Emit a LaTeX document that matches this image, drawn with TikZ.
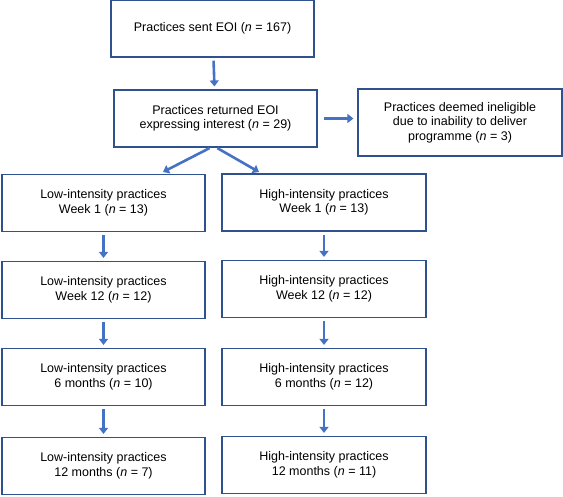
\documentclass[tikz,border=0pt]{standalone}
\usepackage{fontspec}
\setmainfont{Liberation Sans}
\usetikzlibrary{arrows.meta}
\definecolor{boxline}{HTML}{2F528F}
\definecolor{arrowblue}{HTML}{4472C4}
\begin{document}
\begin{tikzpicture}[x=1pt,y=1pt,
	every node/.style={rectangle,draw=boxline,line width=1.2pt,minimum width=203pt,minimum height=57pt,
	inner sep=0,align=center,font=\fontsize{12.5}{14.5}\selectfont},
	arr/.style={draw=arrowblue,line width=2.6pt,-{Triangle[width=9pt,length=6pt]},
	shorten <=3pt,shorten >=3pt}]
\useasboundingbox (0,0) rectangle (563,-496);
\node (sent) at (212.5,-28.5) {Practices sent EOI (\textit{n} = 167)};
\node (ret) at (215.5,-118.5) {Practices returned EOI\\expressing interest (\textit{n} = 29)};
\node[minimum width=204pt,minimum height=67pt] (inel) at (460,-122.5)
	{Practices deemed ineligible\\due to inability to deliver\\programme (\textit{n} = 3)};
% low-intensity arm
\node (low1) at (103.5,-203) {Low-intensity practices\\Week 1 (\textit{n} = 13)};
\node (low2) at (103.5,-290) {Low-intensity practices\\Week 12 (\textit{n} = 12)};
\node (low3) at (103.5,-377) {Low-intensity practices\\6 months (\textit{n} = 10)};
\node (low4) at (103.5,-466) {Low-intensity practices\\12 months (\textit{n} = 7)};
% high-intensity arm
\node[minimum width=204pt] (high1) at (324,-202.5) {High-intensity practices\\Week 1 (\textit{n} = 13)};
\node[minimum width=204pt] (high2) at (324,-289) {High-intensity practices\\Week 12 (\textit{n} = 12)};
\node[minimum width=204pt] (high3) at (324,-377) {High-intensity practices\\6 months (\textit{n} = 12)};
\node[minimum width=204pt] (high4) at (324,-465) {High-intensity practices\\12 months (\textit{n} = 11)};
\coordinate (lowtip) at (163,-172);
\coordinate (hightip) at (259,-172);
\draw[arr] (sent) -- (ret);
\draw[arr,shorten <=6pt,shorten >=4pt] (ret.east) -- (ret.east -| inel.west);
\draw[arr,shorten <=1pt,shorten >=0pt] ([xshift=-5pt]ret.south) -- (lowtip);
\draw[arr,shorten <=1pt,shorten >=0pt] ([xshift=1pt]ret.south) -- (hightip);
\draw[arr] (low1) -- (low2);
\draw[arr] (low2) -- (low3);
\draw[arr] (low3) -- (low4);
\draw[arr] (high1) -- (high2);
\draw[arr] (high2) -- (high3);
\draw[arr] (high3) -- (high4);
\end{tikzpicture}
\end{document}
